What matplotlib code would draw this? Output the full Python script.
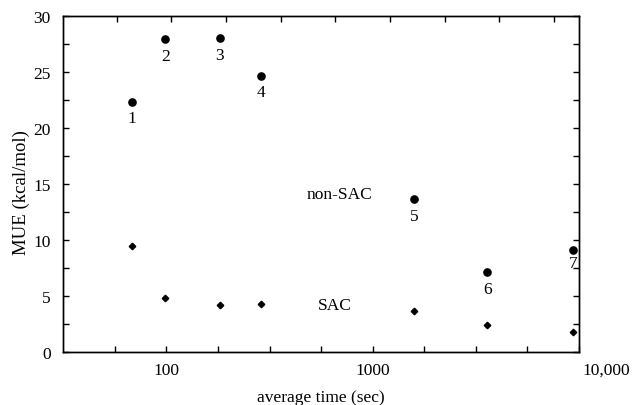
import matplotlib.pyplot as plt
import matplotlib.transforms as mtransforms
import numpy as np
from matplotlib.ticker import FixedLocator, FixedFormatter, MultipleLocator

plt.rcParams['font.family'] = ['Liberation Serif', 'DejaVu Serif']

# average time (sec) for runs 1..7
times = [68, 99, 181, 286, 1590, 3600, 9400]
non_sac = [22.35, 27.92, 28.0, 24.67, 13.63, 7.11, 9.13]
sac = [9.44, 4.82, 4.17, 4.26, 3.63, 2.41, 1.76]
run_labels = ['1', '2', '3', '4', '5', '6', '7']

fig = plt.figure(figsize=(6.33, 4.06), dpi=100)
ax = fig.add_axes([0.0998, 0.1305, 0.8149, 0.8275])

ax.plot(times, non_sac, 'o', color='black', markersize=5.2, linestyle='none')
ax.plot(times, sac, 'D', color='black', markersize=3.3, linestyle='none')

for t, v, lab in zip(times, non_sac, run_labels):
    off = 1.45 if lab != '7' else 1.2
    ax.text(t, v - off, lab, ha='center', va='center', fontsize=12.5)

ax.text(690, 14.1, 'non-SAC', ha='center', va='center', fontsize=12.5)
ax.text(657, 4.2, 'SAC', ha='center', va='center', fontsize=12.5)

ax.set_xscale('log')
ax.set_xlim(10**1.5, 10**4)
ax.set_ylim(0, 30)

xt = 10 ** np.arange(1.75, 4.01, 0.25)
xlab = ['100' if abs(v - 100) < 1 else '1000' if abs(v - 1000) < 1 else '10,000' if abs(v - 10000) < 1 else '' for v in xt]
ax.xaxis.set_major_locator(FixedLocator(xt))
ax.xaxis.set_major_formatter(FixedFormatter(xlab))
ax.xaxis.set_minor_locator(FixedLocator([]))

ax.yaxis.set_major_locator(MultipleLocator(5))
ax.yaxis.set_minor_locator(MultipleLocator(2.5))

ax.tick_params(axis='both', which='both', direction='in', length=4, width=1,
               labelsize=12.5, colors='black')
ax.tick_params(axis='y', which='both', right=True, left=True, pad=9)
ax.tick_params(axis='x', which='both', top=False, pad=7)

# the 10,000 label sits just right of its tick
last = ax.get_xticklabels()[-1]
last.set_horizontalalignment('left')
last.set_transform(last.get_transform() +
                   mtransforms.ScaledTranslation(3 / 100, 0, fig.dpi_scale_trans))

top = ax.twiny()
top.set_xlim(0, 1)
top.set_xticks(np.linspace(0.1035, 0.9515, 9))
top.tick_params(axis='x', direction='in', length=4, width=1, labeltop=False)

for a in (ax, top):
    for s in a.spines.values():
        s.set_linewidth(1)
        s.set_color('black')

ax.set_xlabel('average time (sec)', fontsize=12.5)
ax.xaxis.set_label_coords(0.5, -0.111)
ax.set_ylabel('MUE (kcal/mol)', fontsize=13.5)
ax.yaxis.set_label_coords(-0.065, 0.479)

fig.savefig('out.png', dpi=100)
